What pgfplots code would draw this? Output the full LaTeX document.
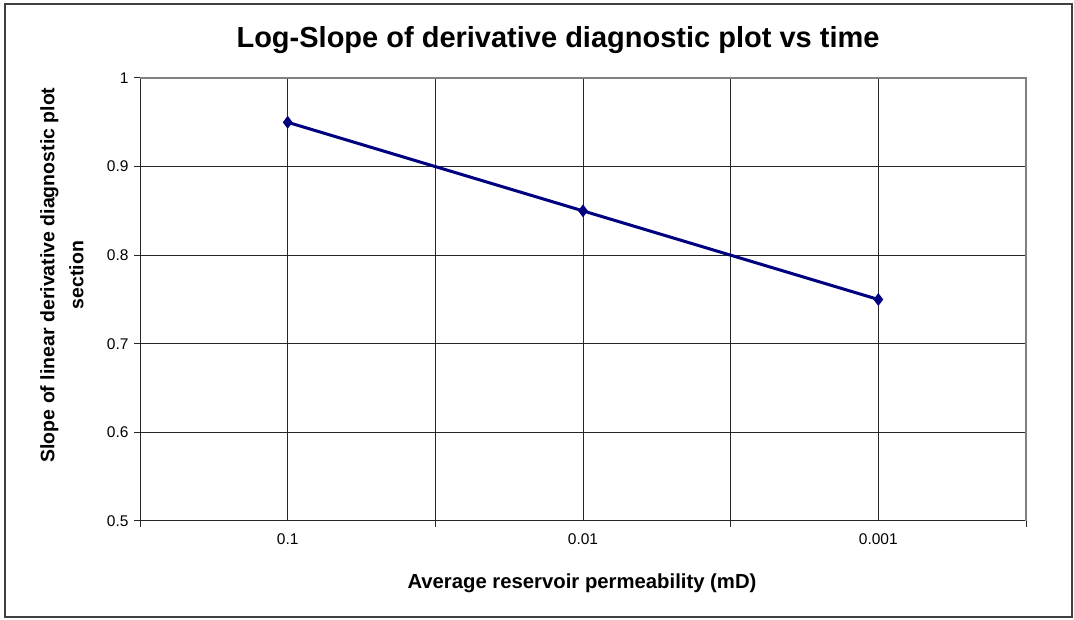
\documentclass[border=0pt]{standalone}
\usepackage{pgfplots}
\pgfplotsset{compat=1.18}
\usepackage{fontspec}
\setmainfont{Liberation Sans}
\definecolor{navyline}{RGB}{0,0,128}
\begin{document}
\begin{tikzpicture}
\path[use as bounding box] (0pt,0pt) rectangle (1074pt,620pt);
\draw[black!75, line width=1.3pt] (5pt,3pt) rectangle (1072pt,616pt);
\begin{axis}[
  at={(583pt,320.5pt)}, anchor=center,
  scale only axis, width=886pt, height=443pt,
  xmin=0, xmax=6, ymin=0.5, ymax=1,
  axis x line*=bottom, axis y line*=left,
  axis line style={black!85, line width=1pt},
  xtick={0,2,4,6}, xticklabels={},
  extra x ticks={1,3,5},
  extra x tick labels={0.1,0.01,0.001},
  extra x tick style={major tick length=0pt, xticklabel style={yshift=-9pt}},
  ytick={0.5,0.6,0.7,0.8,0.9,1},
  yticklabels={0.5,0.6,0.7,0.8,0.9,1},
  yticklabel style={xshift=-2pt},
  tick align=outside, major tick length=6pt,
  tick style={black!85, line width=1pt},
  grid=major, major grid style={black!85, line width=1pt},
  tick label style={font=\fontsize{15.5}{18}\selectfont},
  /pgf/number format/assume math mode=true,
  clip=false,
]
\addplot[navyline, line width=3pt, mark=diamond*, mark size=4pt, mark options={solid}] coordinates {
  (1,0.95) (3,0.85) (5,0.75)
};
\draw[gray, line width=1.2pt] (rel axis cs:0,1) -- (rel axis cs:1,1) -- (rel axis cs:1,0);
\end{axis}
\node[font=\bfseries\fontsize{29}{34}\selectfont] at (558pt,580pt) {Log-Slope of derivative diagnostic plot vs time};
\node[font=\bfseries\fontsize{20.3}{24}\selectfont] at (582pt,37pt) {Average reservoir permeability (mD)};
\node[font=\bfseries\fontsize{19.5}{29}\selectfont, rotate=90, align=center] at (62pt,345pt) {Slope of linear derivative diagnostic plot\\section};
\end{tikzpicture}
\end{document}
